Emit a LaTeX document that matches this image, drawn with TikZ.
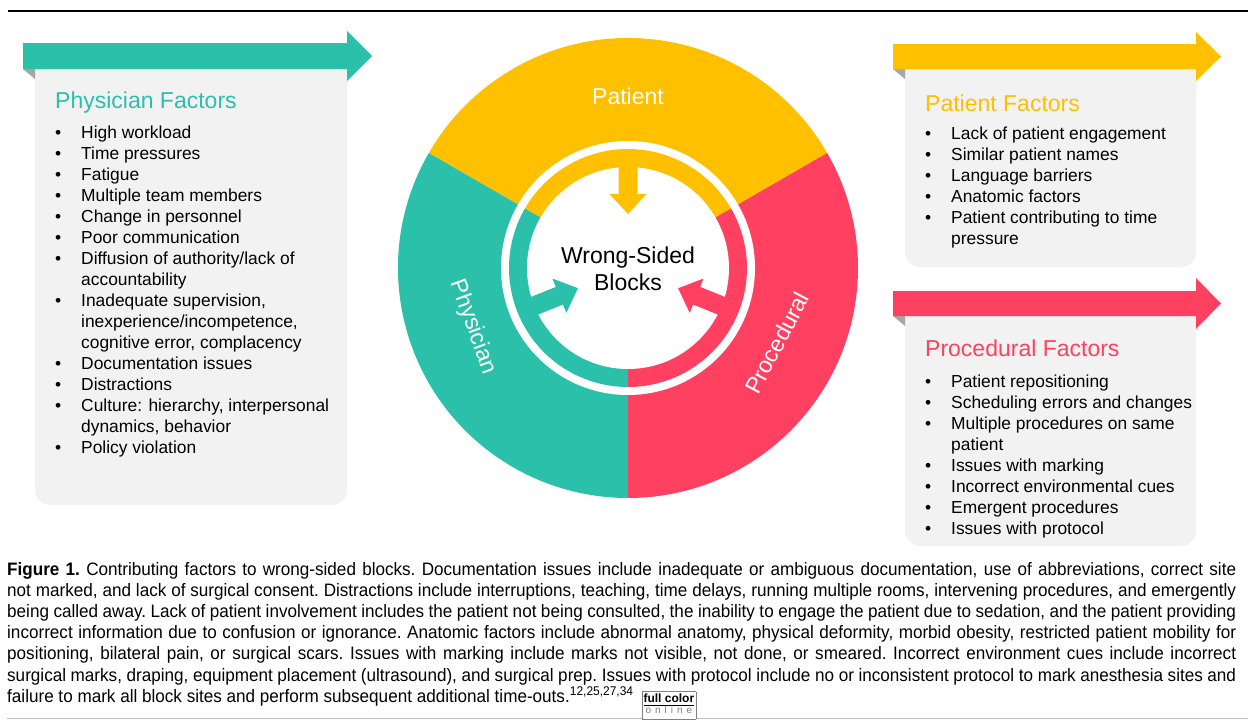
\documentclass[tikz,border=0pt]{standalone}
\usepackage{fontspec}
\setmainfont{Liberation Sans}
\newfontfamily\capfont[FakeStretch=0.95]{Liberation Sans}

\definecolor{physteal}{RGB}{43,192,170}
\definecolor{patyellow}{RGB}{255,192,0}
\definecolor{procred}{RGB}{255,64,96}
\definecolor{panelgrey}{RGB}{242,242,242}
\definecolor{foldgrey}{RGB}{166,166,166}
\definecolor{rulegrey}{RGB}{190,190,190}

\newcommand{\itm}{\makebox[26pt][l]{\textbullet}}
\newcommand{\cnt}{\hspace*{26pt}}

\tikzset{
  factortitle/.style={anchor=base west,inner sep=0,font=\fontsize{23}{27}\selectfont},
  factorlist/.style={anchor=base west,inner sep=0,font=\fontsize{17.4}{21}\selectfont},
  ringlabel/.style={text=white,inner sep=0,font=\fontsize{23}{27}\selectfont},
}

\begin{document}
\begin{tikzpicture}[x=1pt,y=1pt]
\useasboundingbox (0,0) rectangle (1248,-720);
\coordinate (C) at (628,-268);
% rules
\draw[line width=2.4pt] (8,-11) -- (1248,-11);
\draw[line width=1.2pt,rulegrey] (7,-718.5) -- (1248,-718.5);
% wheel, outer part
\fill[patyellow] (C) -- ++(30:230) arc[start angle=30,end angle=150,radius=230] -- cycle;
\fill[physteal] (C) -- ++(150:230) arc[start angle=150,end angle=270,radius=230] -- cycle;
\fill[procred] (C) -- ++(-90:230) arc[start angle=-90,end angle=30,radius=230] -- cycle;
\fill[white] (C) circle[radius=127];
% wheel, inner band
\fill[patyellow] (C) -- ++(30:119) arc[start angle=30,end angle=150,radius=119] -- cycle;
\fill[physteal] (C) -- ++(150:119) arc[start angle=150,end angle=270,radius=119] -- cycle;
\fill[procred] (C) -- ++(-90:119) arc[start angle=-90,end angle=30,radius=119] -- cycle;
\fill[white] (C) circle[radius=101];
\foreach \ang/\col in {90/patyellow,202/physteal,338/procred}
  \fill[\col,shift={(C)},rotate=\ang] (104,9.5) -- (74,9.5) -- (74,18.5) -- (54,0)
    -- (74,-18.5) -- (74,-9.5) -- (104,-9.5) -- cycle;
\node[ringlabel] (patlabel) at (628,-96) {Patient};
\node[ringlabel,rotate=-70] (physlabel) at (473,-327) {Physician};
\node[ringlabel,rotate=62] (proclabel) at (777,-343) {Procedural};
\node[inner sep=0,align=center,font=\fontsize{23}{27}\selectfont] (hub) at (628,-269) {Wrong-Sided\\Blocks};

% physician panel
\fill[panelgrey,rounded corners=15pt] (35,-45) rectangle (347,-505);
\fill[foldgrey] (23,-69) -- (35,-69) -- (35,-79) -- cycle;
\fill[physteal] (23,-43) -- (347,-43) -- (347,-31) -- (372,-56) -- (347,-81) -- (347,-69) -- (23,-69) -- cycle;
\node[factortitle,text=physteal] (phystitle) at (55,-108) {Physician Factors};
\node[factorlist] (physlist) at (55,-138) {\begin{tabular}[t]{@{}l@{}}
\itm High workload\\
\itm Time pressures\\
\itm Fatigue\\
\itm Multiple team members\\
\itm Change in personnel\\
\itm Poor communication\\
\itm Diffusion of authority/lack of\\
\cnt accountability\\
\itm Inadequate supervision,\\
\cnt inexperience/incompetence,\\
\cnt cognitive error, complacency\\
\itm Documentation issues\\
\itm Distractions\\
\itm Culture: hierarchy, interpersonal\\
\cnt dynamics, behavior\\
\itm Policy violation
\end{tabular}};

% patient panel
\fill[panelgrey,rounded corners=15pt] (905,-46) rectangle (1196,-267);
\fill[foldgrey] (893,-69) -- (905,-69) -- (905,-79) -- cycle;
\fill[patyellow] (893,-44) -- (1196,-44) -- (1196,-32) -- (1221,-56.5) -- (1196,-81) -- (1196,-69) -- (893,-69) -- cycle;
\node[factortitle,text=patyellow] (pattitle) at (925,-111) {Patient Factors};
\node[factorlist] (patlist) at (925,-139) {\begin{tabular}[t]{@{}l@{}}
\itm Lack of patient engagement\\
\itm Similar patient names\\
\itm Language barriers\\
\itm Anatomic factors\\
\itm Patient contributing to time\\
\cnt pressure
\end{tabular}};

% procedural panel
\fill[panelgrey,rounded corners=15pt] (905,-293) rectangle (1196,-546);
\fill[foldgrey] (893,-316) -- (905,-316) -- (905,-326) -- cycle;
\fill[procred] (893,-291) -- (1196,-291) -- (1196,-278) -- (1221,-303.5) -- (1196,-329) -- (1196,-316) -- (893,-316) -- cycle;
\node[factortitle,text=procred] (proctitle) at (925,-356) {Procedural Factors};
\node[factorlist] (proclist) at (925,-387) {\begin{tabular}[t]{@{}l@{}}
\itm Patient repositioning\\
\itm Scheduling errors and changes\\
\itm Multiple procedures on same\\
\cnt patient\\
\itm Issues with marking\\
\itm Incorrect environmental cues\\
\itm Emergent procedures\\
\itm Issues with protocol
\end{tabular}};

% caption
\node[anchor=base west,inner sep=0,text width=1229pt,align=justify,
  font=\capfont\fontsize{18}{21.2}\selectfont\frenchspacing] (caption) at (7,-575) {%
\textbf{Figure 1.} Contributing factors to wrong-sided blocks. Documentation issues include inadequate or ambiguous documentation, use of abbreviations, correct site\linebreak
not marked, and lack of surgical consent. Distractions include interruptions, teaching, time delays, running multiple rooms, intervening procedures, and emergently\linebreak
being called away. Lack of patient involvement includes the patient not being consulted, the inability to engage the patient due to sedation, and the patient providing\linebreak
incorrect information due to confusion or ignorance. Anatomic factors include abnormal anatomy, physical deformity, morbid obesity, restricted patient mobility for\linebreak
positioning, bilateral pain, or surgical scars. Issues with marking include marks not visible, not done, or smeared. Incorrect environment cues include incorrect\linebreak
surgical marks, draping, equipment placement (ultrasound), and surgical prep. Issues with protocol include no or inconsistent protocol to mark anesthesia sites and\linebreak
failure to mark all block sites and perform subsequent additional time-outs.\textsuperscript{12,25,27,34}\hspace{8pt}%
\raisebox{-6pt}{\setlength{\fboxsep}{1.5pt}\fcolorbox{gray}{white}{\normalfont\fontsize{12}{12}\selectfont
\begin{tabular}{@{}c@{}}\textbf{full color}\\[-1pt]\hline
\textcolor{gray}{\fontsize{10}{11}\selectfont\addfontfeature{LetterSpace=40}online}\end{tabular}}}};
\end{tikzpicture}
\end{document}
